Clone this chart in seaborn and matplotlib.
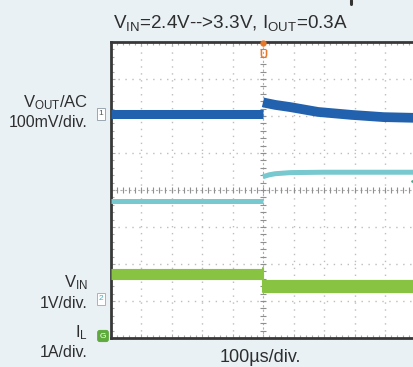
import numpy as np
import pandas as pd
import seaborn as sns
import matplotlib.pyplot as plt
from matplotlib.ticker import MultipleLocator
from matplotlib.lines import Line2D

## Data (time in divisions 0..10, level in divisions 0..8)
# V_OUT (AC coupled)
vout_t_before = [0, 5]
vout_before = [6.05, 6.05]
vout_t_after = [5, 5.1, 5.4, 5.9, 6.8, 7.9, 8.95, 10]
vout_after = [6.37, 6.35, 6.30, 6.24, 6.11, 6.03, 5.97, 5.95]

# cyan trace
cyan_t_before = [0, 5]
cyan_before = [3.70, 3.70]
cyan_t_after = [5, 5.2, 5.4, 5.9, 7, 10]
cyan_after = [4.36, 4.41, 4.44, 4.47, 4.48, 4.48]

# V_IN
vin_t_before = [0, 5]
vin_before = [1.73, 1.73]
vin_t_after = [5, 10]
vin_after = [1.41, 1.41]

title = r'V$_{\mathrm{IN}}$=2.4V-->3.3V, I$_{\mathrm{OUT}}$=0.3A'
time_label = '100\u00b5s/div.'

sns.set_theme(style='white')
plt.rcParams['font.family'] = ['Liberation Sans', 'DejaVu Sans']
plt.rcParams['mathtext.fontset'] = 'custom'
plt.rcParams['mathtext.rm'] = 'Liberation Sans'
plt.rcParams['mathtext.it'] = 'Liberation Sans'

W, H = 414, 367
bg = '#e9f1f5'
txt = '#2e2e2e'
fig = plt.figure(figsize=(W / 100, H / 100), dpi=100, facecolor=bg)


def px(x, y):
    return x / W, 1 - y / H


ax = fig.add_axes([110.5 / W, (H - 338) / H, 305 / W, 296 / H])
ax.set_facecolor('white')
ax.set_xlim(0, 10)
ax.set_ylim(0, 8)

# grid
for gx in range(1, 10):
    if gx != 5:
        ax.axvline(gx, color='#bdbdbd', lw=1, ls=(0, (1, 4)), zorder=1)
for gy in range(1, 8):
    if gy != 4:
        ax.axhline(gy, color='#bdbdbd', lw=1, ls=(0, (1, 4)), zorder=1)
ax.axhline(4, color='#b0b0b0', lw=0.8, ls=(0, (2, 2)), zorder=1)
ax.axvline(5, color='#b0b0b0', lw=0.8, ls=(0, (2, 2)), zorder=1)
sub = np.arange(0, 10.01, 0.2)
ax.plot(sub, np.full_like(sub, 4), ls='none', marker='|', ms=4, mew=0.8, color='#8f8f8f', zorder=1)
suby = np.arange(0, 8.01, 0.2)
ax.plot(np.full_like(suby, 5), suby, ls='none', marker='_', ms=4, mew=0.8, color='#8f8f8f', zorder=1)

# traces
traces = [
    (vout_t_before, vout_before, '#2261ad', 6.5),
    (vout_t_after, vout_after, '#2261ad', 7.0),
    (cyan_t_before, cyan_before, '#78c8cf', 3.6),
    (cyan_t_after, cyan_after, '#78c8cf', 3.6),
    (vin_t_before, vin_before, '#88c441', 8.0),
    (vin_t_after, vin_after, '#88c441', 9.5),
]
for t, v, c, lw in traces:
    df = pd.DataFrame({'t': t, 'v': v})
    sns.lineplot(data=df, x='t', y='v', sort=False, color=c, lw=lw, ax=ax,
                 solid_capstyle='butt', zorder=3)
# edge of the V_IN step
ax.plot([5, 5], [vin_after[0] - 0.17, vin_before[-1] + 0.15], color='#88c441', lw=1.5, zorder=3)

ax.set_xlabel('')
ax.set_ylabel('')
ax.xaxis.set_major_locator(MultipleLocator(1))
ax.yaxis.set_major_locator(MultipleLocator(1))
ax.xaxis.set_minor_locator(MultipleLocator(0.2))
ax.yaxis.set_minor_locator(MultipleLocator(0.2))
ax.tick_params(which='both', direction='in', top=True, bottom=True, left=True, right=False,
               labelbottom=False, labelleft=False, color='#a8a8a8', width=0.8)
ax.tick_params(which='major', length=3)
ax.tick_params(which='minor', length=2)
for s in ['left', 'top', 'bottom']:
    ax.spines[s].set_color('#383838')
    ax.spines[s].set_linewidth(2)
ax.spines['right'].set_visible(False)

# trigger markers
ax.plot([5], [7.97], marker='o', ms=3.5, color='#e8782a', clip_on=False, zorder=5)
ax.text(5, 7.66, 'U', color='#e8782a', fontsize=8, fontweight='bold', ha='center', va='center', zorder=5)
ax.plot([9.95], [4.23], marker='<', ms=4.5, color='#3fae8c', clip_on=False, zorder=5)

# channel tags
fig.text(*px(101, 114), '1', fontsize=6, color='#555555', ha='center', va='center',
         bbox=dict(boxstyle='square,pad=0.25', fc='white', ec='#9aa6b0', lw=0.7))
fig.text(*px(101, 299), '2', fontsize=6, color='#4aa9b3', ha='center', va='center',
         bbox=dict(boxstyle='square,pad=0.25', fc='white', ec='#7cc6cc', lw=0.7))
fig.text(*px(103, 336), 'G', fontsize=6, color='white', ha='center', va='center',
         bbox=dict(boxstyle='round,pad=0.25', fc='#5eaa3c', ec='#5eaa3c', lw=0.7))

# labels
fig.text(*px(230, 28), title, fontsize=13.6, color=txt, ha='center', va='baseline')
fig.text(*px(88, 107), r'V$_{\mathrm{OUT}}$/AC', fontsize=12, color=txt, ha='right', va='baseline')
fig.text(*px(88, 127), '100mV/div.', fontsize=11.5, color=txt, ha='right', va='baseline')
fig.text(*px(88, 287), r'V$_{\mathrm{IN}}$', fontsize=12, color=txt, ha='right', va='baseline')
fig.text(*px(88, 308), '1V/div.', fontsize=11.5, color=txt, ha='right', va='baseline')
fig.text(*px(88, 337), r'I$_{\mathrm{L}}$', fontsize=12, color=txt, ha='right', va='baseline')
fig.text(*px(88, 357), '1A/div.', fontsize=11.5, color=txt, ha='right', va='baseline')
fig.text(*px(260, 362), time_label, fontsize=13, color=txt, ha='center', va='baseline')

# cut-off glyph at top edge
fig.add_artist(Line2D([351 / W, 351 / W], [1, 1 - 4 / H], color='#333333', lw=2.2))

fig.savefig('out.png', dpi=100, facecolor=bg)
